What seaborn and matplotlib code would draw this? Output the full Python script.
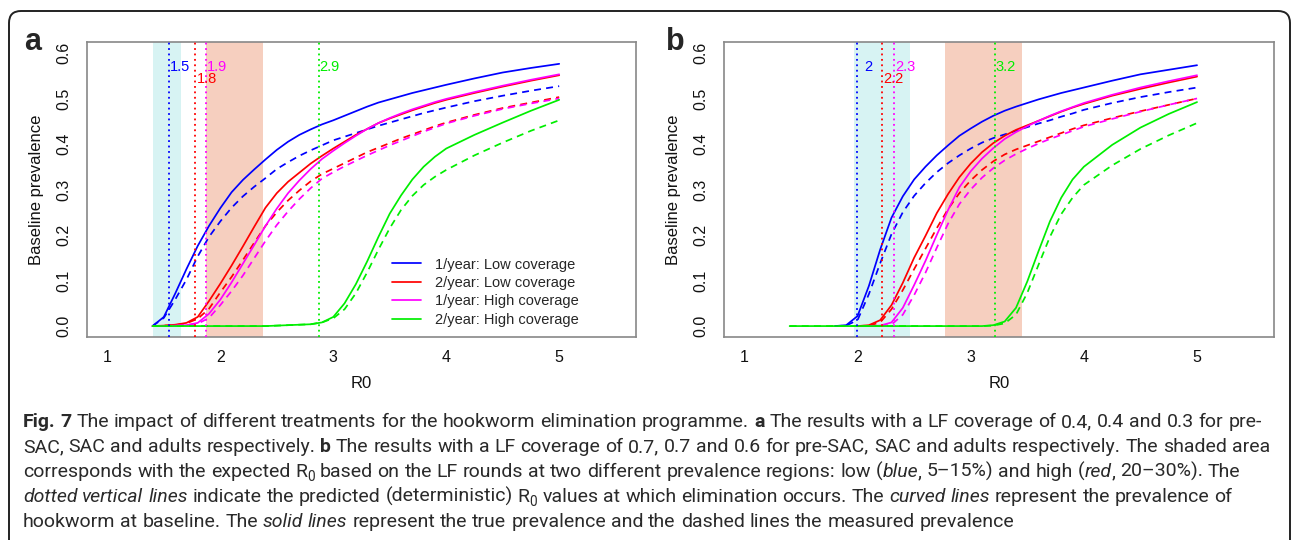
import matplotlib
matplotlib.use('Agg')
import matplotlib.pyplot as plt
import seaborn as sns
import pandas as pd
from matplotlib.lines import Line2D
from matplotlib.patches import FancyBboxPatch
from matplotlib.transforms import IdentityTransform
from matplotlib import font_manager

# R0 grid shared by all curves
r0 = [1.4, 1.5, 1.6, 1.7, 1.8, 1.9, 2.0, 2.1, 2.2, 2.3, 2.4, 2.5, 2.6, 2.7, 2.8, 2.9,
      3.0, 3.1, 3.2, 3.3, 3.4, 3.5, 3.6, 3.7, 3.8, 3.9, 4.0, 4.25, 4.5, 4.75, 5.0]

scenarios = ['1/year: Low coverage', '2/year: Low coverage',
             '1/year: High coverage', '2/year: High coverage']
colors = ['#0000ff', '#ff0000', '#ff00ff', '#00ee00']

# panel a (true = solid, measured = dashed)
a_blue_true = [0.000, 0.020, 0.071, 0.125, 0.176, 0.220, 0.259, 0.294, 0.321, 0.344, 0.366, 0.387, 0.405, 0.420, 0.432, 0.443,
               0.452, 0.462, 0.472, 0.482, 0.491, 0.498, 0.505, 0.512, 0.518, 0.524, 0.530, 0.544, 0.557, 0.567, 0.576]
a_blue_meas = [0.000, 0.018, 0.058, 0.102, 0.153, 0.196, 0.230, 0.260, 0.285, 0.306, 0.325, 0.345, 0.360, 0.374, 0.386, 0.397,
               0.408, 0.416, 0.424, 0.432, 0.440, 0.447, 0.454, 0.461, 0.468, 0.474, 0.480, 0.494, 0.506, 0.517, 0.527]
a_red_true = [0.000, 0.001, 0.003, 0.007, 0.020, 0.055, 0.093, 0.133, 0.175, 0.218, 0.260, 0.292, 0.317, 0.337, 0.357, 0.374,
              0.390, 0.405, 0.420, 0.433, 0.446, 0.456, 0.465, 0.474, 0.482, 0.490, 0.497, 0.512, 0.526, 0.539, 0.551]
a_red_meas = [0.000, 0.001, 0.002, 0.006, 0.016, 0.038, 0.074, 0.108, 0.145, 0.183, 0.220, 0.250, 0.276, 0.298, 0.318, 0.334,
              0.346, 0.358, 0.370, 0.382, 0.392, 0.402, 0.412, 0.421, 0.430, 0.439, 0.447, 0.464, 0.479, 0.491, 0.503]
a_mag_true = [0.000, 0.000, 0.001, 0.002, 0.007, 0.027, 0.058, 0.096, 0.137, 0.178, 0.220, 0.258, 0.292, 0.320, 0.345, 0.367,
              0.385, 0.402, 0.418, 0.433, 0.446, 0.457, 0.467, 0.476, 0.484, 0.492, 0.499, 0.514, 0.528, 0.541, 0.553]
a_mag_meas = [0.000, 0.000, 0.001, 0.002, 0.005, 0.018, 0.046, 0.077, 0.111, 0.149, 0.187, 0.222, 0.252, 0.279, 0.303, 0.324,
              0.338, 0.351, 0.363, 0.375, 0.386, 0.397, 0.407, 0.417, 0.427, 0.436, 0.445, 0.462, 0.477, 0.489, 0.500]
a_grn_true = [0.000, 0.000, 0.000, 0.000, 0.000, 0.000, 0.000, 0.000, 0.000, 0.000, 0.000, 0.001, 0.002, 0.003, 0.004, 0.008,
              0.020, 0.050, 0.092, 0.142, 0.196, 0.247, 0.287, 0.322, 0.350, 0.372, 0.390, 0.420, 0.447, 0.473, 0.497]
a_grn_meas = [0.000, 0.000, 0.000, 0.000, 0.000, 0.000, 0.000, 0.000, 0.000, 0.000, 0.000, 0.001, 0.002, 0.003, 0.004, 0.008,
              0.017, 0.037, 0.072, 0.118, 0.168, 0.215, 0.255, 0.286, 0.310, 0.328, 0.343, 0.375, 0.403, 0.429, 0.452]

# panel b (None = curve not drawn there)
b_blue_true = [None, None, None, None, 0.000, 0.002, 0.022, 0.088, 0.168, 0.238, 0.285, 0.322, 0.350, 0.375, 0.397, 0.418,
               0.434, 0.449, 0.462, 0.473, 0.482, 0.490, 0.498, 0.505, 0.512, 0.518, 0.524, 0.539, 0.553, 0.563, 0.573]
b_blue_meas = [None, None, None, None, 0.000, 0.001, 0.013, 0.070, 0.138, 0.202, 0.250, 0.286, 0.314, 0.338, 0.358, 0.375,
               0.390, 0.403, 0.413, 0.421, 0.429, 0.437, 0.445, 0.452, 0.460, 0.467, 0.475, 0.490, 0.503, 0.514, 0.524]
b_red_true = [None, None, None, None, None, None, 0.000, 0.002, 0.013, 0.046, 0.095, 0.150, 0.198, 0.248, 0.290, 0.327,
              0.357, 0.382, 0.402, 0.418, 0.431, 0.441, 0.451, 0.461, 0.471, 0.480, 0.488, 0.506, 0.521, 0.535, 0.548]
b_red_meas = [None, None, None, None, None, None, 0.000, 0.001, 0.008, 0.037, 0.079, 0.125, 0.170, 0.215, 0.257, 0.292,
              0.320, 0.343, 0.362, 0.377, 0.388, 0.397, 0.406, 0.415, 0.424, 0.433, 0.441, 0.457, 0.472, 0.486, 0.500]
b_mag_true = [None, None, None, None, None, None, None, 0.000, 0.001, 0.008, 0.040, 0.090, 0.143, 0.200, 0.255, 0.305,
              0.340, 0.368, 0.391, 0.411, 0.426, 0.439, 0.451, 0.462, 0.472, 0.481, 0.490, 0.508, 0.524, 0.538, 0.551]
b_mag_meas = [None, None, None, None, None, None, None, 0.000, 0.000, 0.003, 0.025, 0.068, 0.117, 0.172, 0.225, 0.268,
              0.300, 0.326, 0.347, 0.364, 0.378, 0.390, 0.401, 0.411, 0.420, 0.429, 0.438, 0.455, 0.471, 0.486, 0.500]
b_grn_true = [0.000, 0.000, 0.000, 0.000, 0.000, 0.000, 0.000, 0.000, 0.000, 0.000, 0.000, 0.000, 0.000, 0.000, 0.000, 0.000,
              0.000, 0.000, 0.002, 0.010, 0.040, 0.098, 0.165, 0.230, 0.282, 0.322, 0.350, 0.398, 0.436, 0.466, 0.492]
b_grn_meas = [0.000, 0.000, 0.000, 0.000, 0.000, 0.000, 0.000, 0.000, 0.000, 0.000, 0.000, 0.000, 0.000, 0.000, 0.000, 0.000,
              0.000, 0.000, 0.001, 0.006, 0.025, 0.073, 0.135, 0.196, 0.246, 0.282, 0.310, 0.353, 0.389, 0.419, 0.446]

# shaded expected-R0 ranges (low / high prevalence) and elimination thresholds
a_low_band, a_high_band = (1.406, 1.655), (1.875, 2.377)
b_low_band, b_high_band = (1.973, 2.466), (2.770, 3.457)
a_elim = [1.545, 1.780, 1.871, 2.872]
b_elim = [1.994, 2.218, 2.322, 3.212]
a_elim_labels = ['1.5', '1.8', '1.9', '2.9']
b_elim_labels = ['2', '2.2', '2.3', '3.2']


def build_frame(series):
    rows = []
    for name, true_vals, meas_vals in series:
        for x, yt, ym in zip(r0, true_vals, meas_vals):
            if yt is not None:
                rows.append((x, yt, name, 'true'))
            if ym is not None:
                rows.append((x, ym, name, 'measured'))
    return pd.DataFrame(rows, columns=['R0', 'prevalence', 'scenario', 'kind'])


df_a = build_frame([(scenarios[0], a_blue_true, a_blue_meas), (scenarios[1], a_red_true, a_red_meas),
                    (scenarios[2], a_mag_true, a_mag_meas), (scenarios[3], a_grn_true, a_grn_meas)])
df_b = build_frame([(scenarios[0], b_blue_true, b_blue_meas), (scenarios[1], b_red_true, b_red_meas),
                    (scenarios[2], b_mag_true, b_mag_meas), (scenarios[3], b_grn_true, b_grn_meas)])

sns.set_style('white')
plt.rcParams['font.family'] = ['Liberation Sans', 'DejaVu Sans']

W, H = 1292, 540
fig = plt.figure(figsize=(W / 100, H / 100), dpi=100)


def px_axes(left, top, right, bottom):
    return fig.add_axes([left / W, 1 - bottom / H, (right - left) / W, (bottom - top) / H])


palette = dict(zip(scenarios, colors))
dashes = {'true': '', 'measured': (4, 3)}


def draw_panel(ax, df, low_band, high_band, elim, elim_labels, label_pos):
    ax.axvspan(*low_band, color='#d7f3f3', lw=0, zorder=0)
    ax.axvspan(*high_band, color='#f6cfbf', lw=0, zorder=0)
    sns.lineplot(data=df, x='R0', y='prevalence', hue='scenario', style='kind',
                 hue_order=scenarios, style_order=['true', 'measured'],
                 palette=palette, dashes=dashes, estimator=None, sort=True,
                 linewidth=1.25, legend=False, ax=ax)
    for x, c in zip(elim, colors):
        ax.axvline(x, color=c, ls=(0, (1, 2)), lw=1.3, zorder=3)
    for lbl, c, (tx, ty) in zip(elim_labels, colors, label_pos):
        ax.text(tx, ty, lbl, color=c, fontsize=10.5, ha='left', va='center')
    ax.set_xlim(0.82, 5.68)
    ax.set_ylim(-0.024, 0.624)
    ax.set_xticks([1, 2, 3, 4, 5])
    ax.set_yticks([0.0, 0.1, 0.2, 0.3, 0.4, 0.5, 0.6])
    ax.set_yticklabels(['0.0', '0.1', '0.2', '0.3', '0.4', '0.5', '0.6'], rotation=90, va='center')
    ax.tick_params(axis='both', direction='out', length=4.3, width=0.9, color='#444',
                   labelsize=11.5, labelcolor='#111')
    ax.tick_params(axis='y', pad=7)
    ax.tick_params(axis='x', pad=5)
    for s in ax.spines.values():
        s.set_color('#888888')
        s.set_linewidth(1.2)
    ax.set_xlabel('R0', fontsize=12, labelpad=8, color='#111')
    ax.set_ylabel('Baseline prevalence', fontsize=12, labelpad=9, color='#111')
    ax.set_facecolor('white')


ax_a = px_axes(87, 42, 636, 337)
ax_b = px_axes(724, 42, 1274, 337)

draw_panel(ax_a, df_a, a_low_band, a_high_band, a_elim, a_elim_labels,
           [(1.553, 0.569), (1.790, 0.542), (1.880, 0.569), (2.877, 0.569)])
draw_panel(ax_b, df_b, b_low_band, b_high_band, b_elim, b_elim_labels,
           [(2.060, 0.569), (2.226, 0.542), (2.330, 0.569), (3.218, 0.569)])

handles = [Line2D([], [], color=c, lw=1.25) for c in colors]
ax_a.legend(handles, scenarios, loc='lower left', bbox_to_anchor=(0.556, 0.035), frameon=False,
            fontsize=10.5, handlelength=2.0, handletextpad=0.9, labelspacing=0.3,
            borderaxespad=0, borderpad=0)

fig.text(24 / W, 1 - 50 / H, 'a', fontsize=22, weight='bold', va='baseline')
fig.text(666 / W, 1 - 50 / H, 'b', fontsize=22, weight='bold', va='baseline')

# rounded frame around the figure block
frame = FancyBboxPatch((9, -30), 1281, 540 - 11 + 30, boxstyle='round,pad=0,rounding_size=12',
                       transform=IdentityTransform(), fill=False, ec='#222222', lw=1.4)
fig.patches.append(frame)

# caption
names = {f.name for f in font_manager.fontManager.ttflist}
cap_font = 'Liberation Sans Narrow' if 'Liberation Sans Narrow' in names else 'Roboto'
cap_size = 14.0

cap_lines = [
    [('Fig. 7', 'bold'), (' The impact of different treatments for the hookworm elimination programme. ', 'normal'),
     ('a', 'bold'), (' The results with a LF coverage of 0.4, 0.4 and 0.3 for pre-', 'normal')],
    [('SAC, SAC and adults respectively. ', 'normal'), ('b', 'bold'),
     (' The results with a LF coverage of 0.7, 0.7 and 0.6 for pre-SAC, SAC and adults respectively. The shaded area', 'normal')],
    [('corresponds with the expected R', 'normal'), ('0', 'sub'),
     (' based on the LF rounds at two different prevalence regions: low (', 'normal'), ('blue', 'italic'),
     (', 5–15%) and high (', 'normal'), ('red', 'italic'), (', 20–30%). The', 'normal')],
    [('dotted vertical lines', 'italic'), (' indicate the predicted (deterministic) R', 'normal'), ('0', 'sub'),
     (' values at which elimination occurs. The ', 'normal'), ('curved lines', 'italic'),
     (' represent the prevalence of', 'normal')],
    [('hookworm at baseline. The ', 'normal'), ('solid lines', 'italic'),
     (' represent the true prevalence and the dashed lines the measured prevalence', 'normal')],
]
cap_baselines = [427, 452, 477, 502, 527]

renderer = fig.canvas.get_renderer()


def style_kw(style):
    kw = dict(family=cap_font, fontsize=cap_size, color='#2a2a2a')
    if style == 'bold':
        kw['weight'] = 'bold'
    if style == 'italic':
        kw['style'] = 'italic'
    if style == 'sub':
        kw['fontsize'] = cap_size * 0.7
    return kw


probe1 = fig.text(0, 0, 'x x', **style_kw('normal'))
probe2 = fig.text(0, 0, 'xx', **style_kw('normal'))
space_w = probe1.get_window_extent(renderer).width - probe2.get_window_extent(renderer).width
probe1.remove()
probe2.remove()

for parts, base in zip(cap_lines, cap_baselines):
    x = 23.0
    pending = False
    first = True
    for text, style in parts:
        pieces = text.split(' ')
        for i, piece in enumerate(pieces):
            if i > 0:
                pending = True
            if not piece:
                continue
            if pending and not first:
                x += space_w
            pending = False
            first = False
            y = base + (4 if style == 'sub' else 0)
            t = fig.text(x / W, 1 - y / H, piece, va='baseline', ha='left', **style_kw(style))
            x += t.get_window_extent(renderer).width

fig.savefig('out.png', dpi=100)
